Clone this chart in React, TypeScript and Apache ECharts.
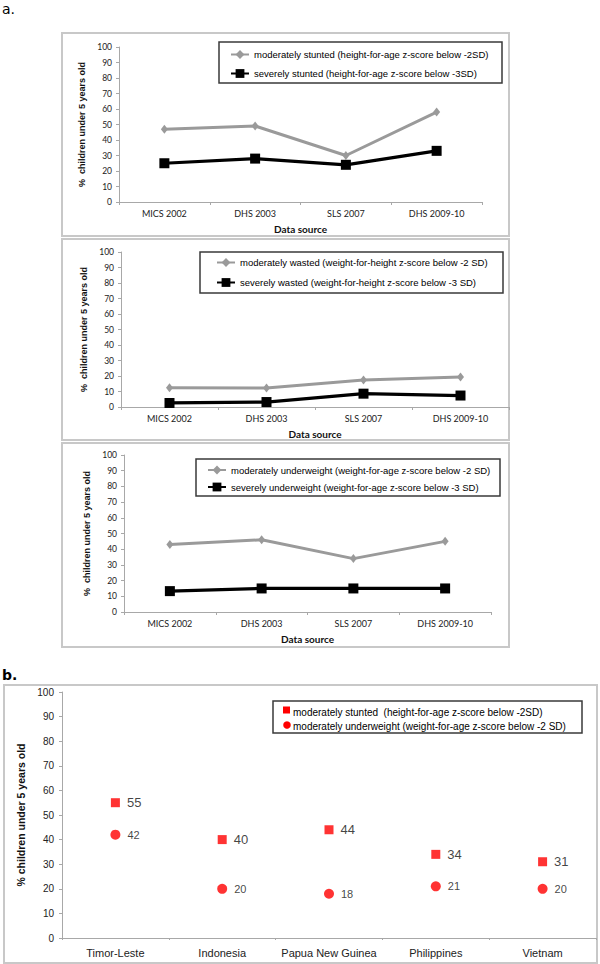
import React, { useEffect, useRef } from "react";
import * as echarts from "echarts";

const sourcesA = ["MICS 2002", "DHS 2003", "SLS 2007", "DHS 2009-10"];
const stuntedModerate = [47, 49, 30, 58];
const stuntedSevere = [25, 28, 24, 33];
const wastedModerate = [12.4, 12.3, 17.4, 19.4];
const wastedSevere = [2.6, 3.2, 8.6, 7.4];
const underweightModerate = [43, 46, 34, 45];
const underweightSevere = [13.3, 15, 15, 15];

const countriesB = ["Timor-Leste", "Indonesia", "Papua New Guinea", "Philippines", "Vietnam"];
const regionStunted = [55, 40, 44, 34, 31];
const regionUnderweight = [42, 20, 18, 21, 20];

const namesA = [
  ["moderately stunted (height-for-age z-score below -2SD)", "severely stunted (height-for-age z-score below -3SD)"],
  ["moderately wasted (weight-for-height z-score below -2 SD)", "severely wasted (weight-for-height z-score below -3 SD)"],
  ["moderately underweight (weight-for-age z-score below -2 SD)", "severely underweight (weight-for-age z-score below -3 SD)"],
];
const namesB = [
  "moderately stunted  (height-for-age z-score below -2SD)",
  "moderately underweight (weight-for-age z-score below -2 SD)",
];

const yTitleA = "%  children under 5 years old";
const yTitleB = "% children under 5 years old";
const xTitleA = "Data source";

export default function App() {
  const ref = useRef<HTMLDivElement>(null);
  useEffect(() => {
    if (!ref.current) return;
    const chart = echarts.init(ref.current, null, { renderer: "svg" });

    const gridsA = [
      { left: 119, top: 47, width: 363, height: 155 },
      { left: 121, top: 252, width: 388, height: 155 },
      { left: 124, top: 455, width: 367, height: 157 },
    ];
    const gridB = { left: 62, top: 692, width: 534, height: 246 };
    const dataA = [
      [stuntedModerate, stuntedSevere],
      [wastedModerate, wastedSevere],
      [underweightModerate, underweightSevere],
    ];
    const legendPos = [
      { left: 230, top: 49.5, gap: 9 },
      { left: 216, top: 257.5, gap: 10 },
      { left: 207, top: 465, gap: 7 },
    ];
    const axisGray = "#a8a8a8";

    const xAxes: any[] = [];
    const yAxes: any[] = [];
    const series: any[] = [];
    const legends: any[] = [];

    gridsA.forEach((g, i) => {
      xAxes.push({
        type: "category",
        gridIndex: i,
        data: sourcesA,
        boundaryGap: true,
        axisLine: { lineStyle: { color: axisGray, width: 1 } },
        axisTick: { show: true, length: 3, lineStyle: { color: axisGray } },
        axisLabel: { fontSize: 9, color: "#222", fontFamily: "Lato", margin: 7, interval: 0 },
        name: xTitleA,
        nameLocation: "middle",
        nameGap: 22,
        nameTextStyle: { fontSize: 10, fontWeight: "bold", color: "#111", fontFamily: "Lato" },
      });
      yAxes.push({
        type: "value",
        gridIndex: i,
        min: 0,
        max: 100,
        interval: 10,
        splitLine: { show: false },
        axisLine: { show: true, lineStyle: { color: axisGray, width: 1 } },
        axisTick: { show: true, length: 3, lineStyle: { color: axisGray } },
        axisLabel: { fontSize: 8.5, color: "#222", fontFamily: "Lato", margin: 7 },
        name: yTitleA,
        nameLocation: "middle",
        nameGap: 25,
        nameRotate: 90,
        nameTextStyle: { fontSize: 9, fontWeight: "bold", color: "#111", fontFamily: "Liberation Sans" },
      });
      series.push({
        type: "line",
        name: namesA[i][0],
        xAxisIndex: i,
        yAxisIndex: i,
        data: dataA[i][0],
        symbol: "diamond",
        symbolSize: [7, 9],
        lineStyle: { color: "#9a9a9a", width: 3 },
        itemStyle: { color: "#9a9a9a" },
        z: 3,
      });
      series.push({
        type: "line",
        name: namesA[i][1],
        xAxisIndex: i,
        yAxisIndex: i,
        data: dataA[i][1],
        symbol: "rect",
        symbolSize: 10,
        lineStyle: { color: "#000", width: 3.2 },
        itemStyle: { color: "#000" },
        z: 4,
      });
      legends.push({
        data: namesA[i],
        orient: "vertical",
        left: legendPos[i].left,
        top: legendPos[i].top,
        padding: 0,
        itemWidth: 18,
        itemHeight: 11,
        itemGap: legendPos[i].gap,
        selectedMode: false,
        textStyle: { fontSize: 9.5, color: "#000", fontFamily: "Liberation Sans" },
      });
    });

    xAxes.push({
      type: "category",
      gridIndex: 3,
      data: countriesB,
      boundaryGap: true,
      axisLine: { lineStyle: { color: axisGray, width: 1 } },
      axisTick: { show: true, length: 2, lineStyle: { color: axisGray } },
      axisLabel: { fontSize: 11, color: "#222", fontFamily: "Liberation Sans", margin: 9, interval: 0 },
    });
    yAxes.push({
      type: "value",
      gridIndex: 3,
      min: 0,
      max: 100,
      interval: 10,
      splitLine: { show: false },
      axisLine: { show: true, lineStyle: { color: axisGray, width: 1 } },
      axisTick: { show: true, length: 3, lineStyle: { color: axisGray } },
      axisLabel: { fontSize: 10, color: "#222", fontFamily: "Liberation Sans", margin: 8 },
      name: yTitleB,
      nameLocation: "middle",
      nameGap: 26,
      nameRotate: 90,
      nameTextStyle: { fontSize: 10.5, fontWeight: "bold", color: "#111", fontFamily: "Liberation Sans" },
    });
    series.push({
      type: "scatter",
      name: namesB[0],
      xAxisIndex: 3,
      yAxisIndex: 3,
      data: regionStunted,
      symbol: "rect",
      symbolSize: 9,
      itemStyle: { color: "#ff0000" },
      label: { show: true, position: "right", distance: 7, fontSize: 13, color: "#111", fontFamily: "Liberation Sans" },
    });
    series.push({
      type: "scatter",
      name: namesB[1] + " ",
      xAxisIndex: 3,
      yAxisIndex: 3,
      data: regionUnderweight,
      symbol: "circle",
      symbolSize: 10,
      itemStyle: { color: "#ff0000" },
      label: { show: true, position: "right", distance: 7, fontSize: 11, color: "#111", fontFamily: "Liberation Sans" },
    });

    const panelRect = (x1: number, y1: number, x2: number, y2: number) => ({
      type: "rect",
      shape: { x: x1, y: y1, width: x2 - x1, height: y2 - y1 },
      style: { fill: "none", stroke: "#c8c8c8", lineWidth: 2 },
      silent: true,
      z: 0,
    });
    const legendRect = (x1: number, y1: number, x2: number, y2: number) => ({
      type: "rect",
      shape: { x: x1, y: y1, width: x2 - x1, height: y2 - y1 },
      style: { fill: "none", stroke: "#3a3a3a", lineWidth: 1.5 },
      silent: true,
      z: 0,
    });
    const legendTextB = (t: string, y: number) => ({
      type: "text",
      x: 293,
      y,
      style: {
        text: t,
        fontSize: 10,
        fill: "#000",
        fontFamily: "Liberation Sans",
        verticalAlign: "middle",
        align: "left",
      },
      silent: true,
    });

    chart.setOption({
      animation: false,
      backgroundColor: "#fff",
      grid: [...gridsA, gridB],
      xAxis: xAxes,
      yAxis: yAxes,
      series,
      legend: legends,
      graphic: [
        panelRect(62, 33, 509, 236),
        panelRect(62, 239, 509, 440),
        panelRect(62, 443, 509, 647),
        panelRect(4, 685, 597, 963),
        legendRect(219, 42, 502, 83),
        legendRect(200, 252, 503, 293),
        legendRect(196, 459, 500, 496),
        legendRect(273, 701, 582, 733),
        {
          type: "rect",
          shape: { x: 283, y: 706.5, width: 7, height: 7 },
          style: { fill: "#ff0000" },
          silent: true,
        },
        {
          type: "circle",
          shape: { cx: 287, cy: 725, r: 3.8 },
          style: { fill: "#ff0000" },
          silent: true,
        },
        legendTextB(namesB[0], 712),
        legendTextB(namesB[1], 726.5),
        {
          type: "text",
          left: 2,
          top: 2,
          style: { text: "a.", fontSize: 14, fill: "#000", fontFamily: "DejaVu Sans" },
        },
        {
          type: "text",
          left: 2,
          top: 668,
          style: { text: "b.", fontSize: 14, fontWeight: "bold", fill: "#000", fontFamily: "DejaVu Sans" },
        },
      ],
    });
    return () => chart.dispose();
  }, []);
  return (
    <div
      ref={ref}
      style={{ position: "absolute", left: 0, top: 0, width: 600, height: 964, background: "#fff" }}
    />
  );
}
